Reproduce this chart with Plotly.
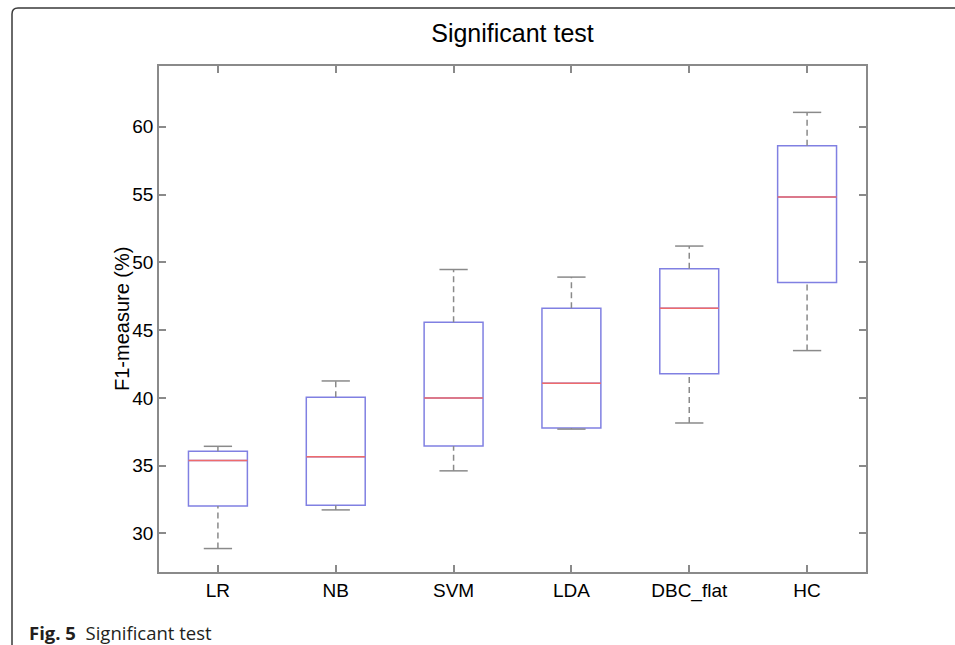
import plotly.graph_objects as go

categories = ["LR", "NB", "SVM", "LDA", "DBC_flat", "HC"]
lower_whisker = [28.89, 31.74, 34.62, 37.70, 38.15, 43.49]
q1_values = [32.02, 32.09, 36.45, 37.78, 41.79, 48.51]
median_values = [35.39, 35.66, 39.99, 41.08, 46.62, 54.82]
q3_values = [36.06, 40.04, 45.58, 46.62, 49.52, 58.60]
upper_whisker = [36.43, 41.25, 49.47, 48.91, 51.20, 61.06]
y_ticks = [30, 35, 40, 45, 50, 55, 60]

positions = list(range(1, len(categories) + 1))
BOX_W = 0.5
CAP_W = 0.24

W, H = 955, 645
L, R, T, B = 159, 866, 66, 572
pw, ph = R - L, B - T

def px_to_paper(x, y):
    return (x - L) / pw, (B - y) / ph

fig = go.Figure()

fig.add_trace(go.Box(
    x=positions, q1=q1_values, median=median_values, q3=q3_values,
    lowerfence=q1_values, upperfence=q3_values,
    width=BOX_W, fillcolor="rgba(255,255,255,0)",
    line=dict(color="#8080e2", width=1.5),
    hoverinfo="skip", showlegend=False, boxpoints=False,
))

wx, wy, cx, cy, mx, my = [], [], [], [], [], []
for p, lo, a, m, b, hi in zip(positions, lower_whisker, q1_values, median_values, q3_values, upper_whisker):
    wx += [p, p, None, p, p, None]
    wy += [lo, a, None, b, hi, None]
    cx += [p - CAP_W / 2, p + CAP_W / 2, None, p - CAP_W / 2, p + CAP_W / 2, None]
    cy += [lo, lo, None, hi, hi, None]
    mx += [p - BOX_W / 2, p + BOX_W / 2, None]
    my += [m, m, None]

fig.add_trace(go.Scatter(x=wx, y=wy, mode="lines", line=dict(color="#8a8a8a", width=1.5, dash="6px,4px"),
                         hoverinfo="skip", showlegend=False))
fig.add_trace(go.Scatter(x=cx, y=cy, mode="lines", line=dict(color="#8a8a8a", width=1.5),
                         hoverinfo="skip", showlegend=False))
fig.add_trace(go.Scatter(x=mx, y=my, mode="lines", line=dict(color="#ef6b6b", width=1.5),
                         hoverinfo="skip", showlegend=False))

axis_common = dict(showline=True, linecolor="#8a8a8a", linewidth=1.5, mirror="ticks",
                   ticks="inside", ticklen=7, tickcolor="#8a8a8a", tickwidth=1.5,
                   showgrid=False, zeroline=False,
                   tickfont=dict(family="Liberation Sans, Arial", size=19, color="#000"))

fig.update_xaxes(range=[0.5, 6.5], tickvals=positions, ticktext=categories, **axis_common)
fig.update_yaxes(range=[27.16, 64.48], tickvals=y_ticks, **axis_common)

# y-axis title
tx, ty = px_to_paper(122, 319)
fig.add_annotation(text="F1-measure (%)", xref="paper", yref="paper", x=tx, y=ty,
                   xanchor="center", yanchor="middle", textangle=-90, showarrow=False,
                   font=dict(family="Liberation Sans, Arial", size=20, color="#000"))

# Outer rounded frame
fx0, fy0 = px_to_paper(12, 8)
fx1, fy1 = px_to_paper(962, 652)
rx, ry = 6 / pw, 6 / ph
path = (f"M {fx0},{fy1} L {fx0},{fy0 - ry} Q {fx0},{fy0} {fx0 + rx},{fy0} L {fx1},{fy0}")
fig.add_shape(type="path", path=path, xref="paper", yref="paper",
              line=dict(color="#3a3a3a", width=1.5))

capx, capy = px_to_paper(27, 632)
fig.add_annotation(text="<b>Fig. 5</b>  Significant test", xref="paper", yref="paper",
                   x=capx, y=capy, xanchor="left", yanchor="middle", showarrow=False,
                   font=dict(family="Open Sans, Noto Sans", size=18.5, color="#231f20"))

fig.update_layout(
    width=W, height=H,
    margin=dict(l=L, r=W - R, t=T, b=H - B, autoexpand=False),
    paper_bgcolor="white", plot_bgcolor="white",
    title=dict(text="Significant test", x=(L + R) / 2 / W, xanchor="center",
               y=1 - 33 / H, yanchor="middle", yref="container",
               font=dict(family="Liberation Sans, Arial", size=25, color="#000")),
)

fig.write_html("out.html", config={"displayModeBar": False},
               post_script="document.body.style.margin='0';document.body.style.overflow='hidden';")
